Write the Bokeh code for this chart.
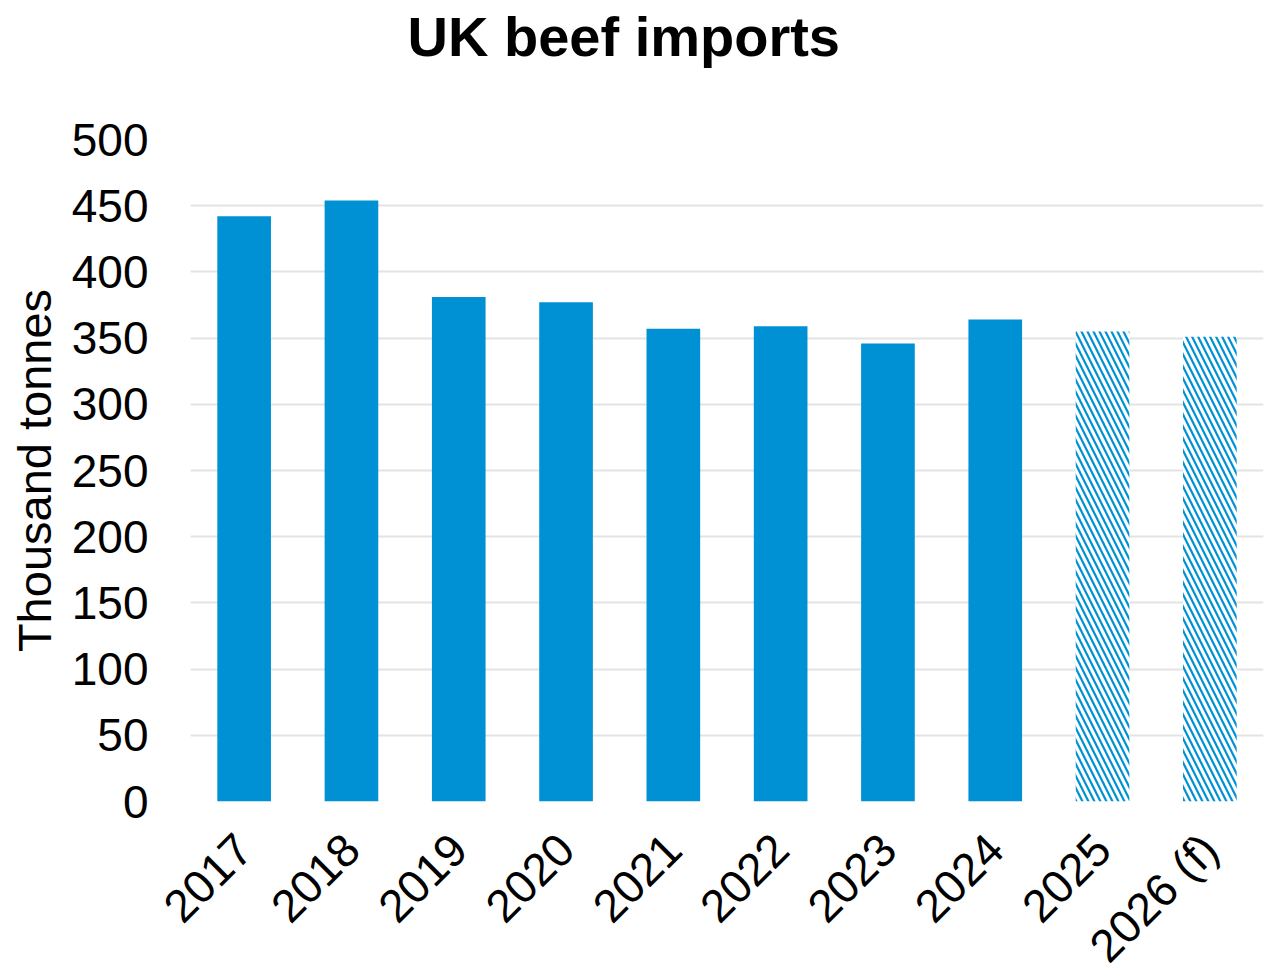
from bokeh.plotting import figure
from bokeh.models import ColumnDataSource, Range1d, SingleIntervalTicker, Title
from bokeh.embed import file_html
from bokeh.resources import INLINE
import math

years = ["2017", "2018", "2019", "2020", "2021", "2022", "2023", "2024", "2025", "2026 (f)"]
imports = [442, 454, 381, 377, 357, 359, 346, 364, 355, 351]
forecast = [False, False, False, False, False, False, False, False, True, True]
title_text = "UK beef imports"
y_label = "Thousand tonnes"

BLUE = "#0090D4"
FONT = "Liberation Sans"

actual_src = ColumnDataSource(dict(
    x=[y for y, f in zip(years, forecast) if not f],
    top=[v for v, f in zip(imports, forecast) if not f],
))
fc_src = ColumnDataSource(dict(
    x=[y for y, f in zip(years, forecast) if f],
    top=[v for v, f in zip(imports, forecast) if f],
))

p = figure(
    x_range=years, y_range=Range1d(0, 500),
    frame_width=1073, frame_height=662,
    output_backend="svg", toolbar_location=None,
    min_border_left=190, min_border_right=2, min_border_top=139, min_border_bottom=0,
)
# spacer panel between the frame and the title, then the title itself on top
p.add_layout(Title(text=" ", text_font_size="1px", standoff=68), "above")
p.add_layout(Title(text=title_text, align="left", offset=217, vertical_align="middle",
                   standoff=0, text_font=FONT, text_font_size="56px",
                   text_font_style="bold", text_color="black"), "above")

p.vbar(x="x", top="top", width=0.5, source=actual_src, fill_color=BLUE, line_color=None)
p.vbar(x="x", top="top", width=0.5, source=fc_src, fill_color="white", line_color=None,
       hatch_pattern="\\", hatch_color=BLUE, hatch_scale=12, hatch_weight=2.2)

p.outline_line_color = None
p.background_fill_color = "white"
p.border_fill_color = "white"

p.xgrid.grid_line_color = None
p.ygrid.grid_line_color = "#E3E3E3"
p.ygrid.grid_line_width = 2
p.yaxis.ticker = SingleIntervalTicker(interval=50)

for ax in (p.xaxis[0], p.yaxis[0]):
    ax.axis_line_color = None
    ax.major_tick_line_color = None
    ax.minor_tick_line_color = None
    ax.major_tick_out = 0
    ax.major_tick_in = 0
    ax.major_label_text_font = FONT
    ax.major_label_text_color = "black"
    ax.axis_label_text_font = FONT
    ax.axis_label_text_color = "black"

p.yaxis.major_label_text_font_size = "46px"
p.yaxis.major_label_standoff = 38
p.yaxis.axis_label = y_label
p.yaxis.axis_label_text_font_size = "47px"
p.yaxis.axis_label_text_font_style = "normal"
p.yaxis.axis_label_standoff = 8

p.xaxis.major_label_text_font_size = "46px"
p.xaxis.major_label_orientation = math.pi / 4
p.xaxis.major_label_standoff = 40

open("out.html", "w").write(file_html(p, INLINE))
